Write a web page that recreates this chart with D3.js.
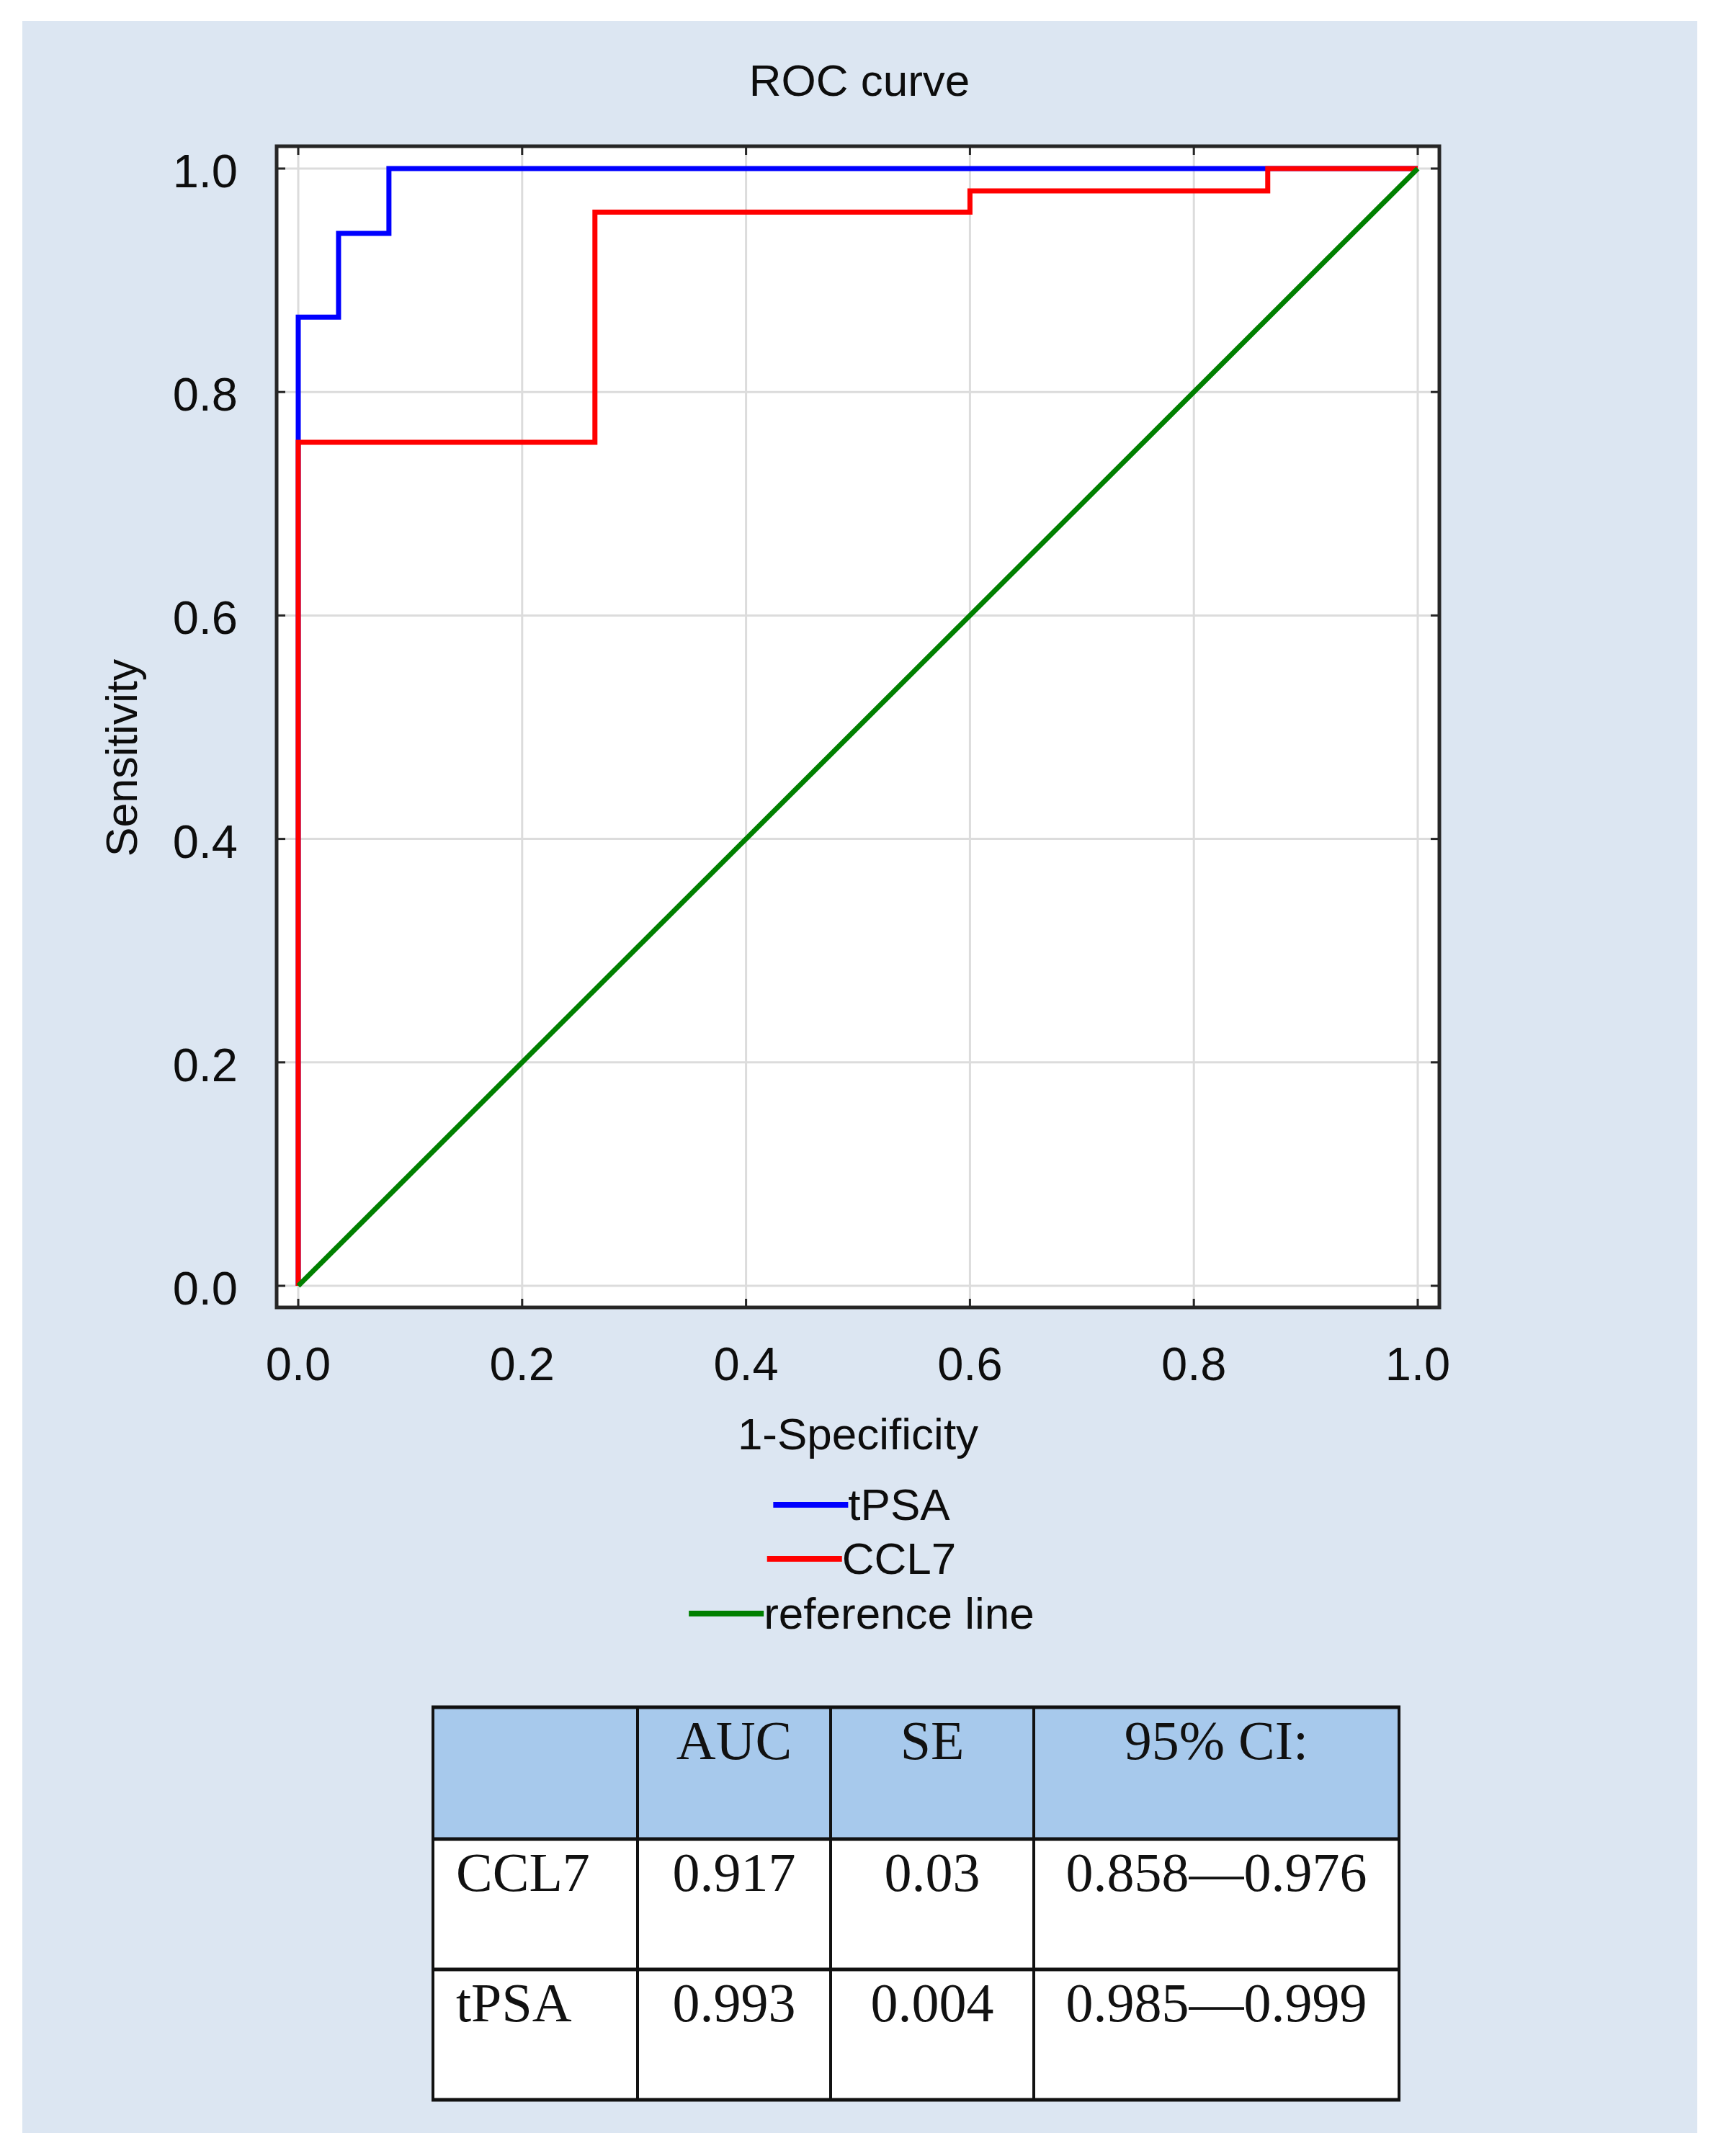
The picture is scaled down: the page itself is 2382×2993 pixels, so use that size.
<!DOCTYPE html>
<html>
<head>
<meta charset="utf-8">
<script src="https://cdn.jsdelivr.net/npm/d3@7"></script>
<style>
  body { margin: 0; background: #ffffff; }
  svg { display: block; }
</style>
</head>
<body>
<script>
var W = 2382;
var H = 2993;

// ROC curve points (1-specificity, sensitivity)
var tpsaFpr = [0, 0, 0.036, 0.081, 1];
var tpsaTpr = [0, 0.867, 0.942, 1.0, 1.0];
var ccl7Fpr = [0, 0, 0.265, 0.6, 0.866, 1];
var ccl7Tpr = [0, 0.755, 0.961, 0.98, 1.0, 1.0];
var refFpr = [0, 1];
var refTpr = [0, 1];

var tickValues = [0, 0.2, 0.4, 0.6, 0.8, 1.0];
var tickLabels = ["0.0", "0.2", "0.4", "0.6", "0.8", "1.0"];

var legendNames = ["tPSA", "CCL7", "reference line"];
var legendColors = ["#0000ff", "#ff0000", "#008000"];

// table
var tableHeaders = ["", "AUC", "SE", "95% CI:"];
var rowNames = ["CCL7", "tPSA"];
var aucValues = ["0.917", "0.993"];
var seValues = ["0.03", "0.004"];
var ciValues = ["0.858\u20140.976", "0.985\u20140.999"];

var svg = d3.select("body").append("svg").attr("width", W).attr("height", H);
svg.append("rect").attr("width", W).attr("height", H).attr("fill", "#ffffff");
svg.append("rect")
  .attr("x", 31).attr("y", 29)
  .attr("width", 2325).attr("height", 2932)
  .attr("fill", "#dce6f2");

var sans = "'Liberation Sans', Arial, sans-serif";
var serif = "'Liberation Serif', 'Times New Roman', serif";
var ink = "#0d0d0d";

// plot frame
var frame = { left: 384, right: 1998, top: 203, bottom: 1815 };
var x = d3.scaleLinear().domain([0, 1]).range([414, 1968]);
var y = d3.scaleLinear().domain([0, 1]).range([1785, 234]);

svg.append("rect")
  .attr("x", frame.left).attr("y", frame.top)
  .attr("width", frame.right - frame.left).attr("height", frame.bottom - frame.top)
  .attr("fill", "#ffffff");

// grid
svg.append("g")
  .selectAll("line")
  .data(tickValues)
  .enter()
  .append("line")
  .attr("x1", function (d) { return x(d); })
  .attr("x2", function (d) { return x(d); })
  .attr("y1", frame.top).attr("y2", frame.bottom)
  .attr("stroke", "#dcdcdc").attr("stroke-width", 3);

svg.append("g")
  .selectAll("line")
  .data(tickValues)
  .enter()
  .append("line")
  .attr("y1", function (d) { return y(d); })
  .attr("y2", function (d) { return y(d); })
  .attr("x1", frame.left).attr("x2", frame.right)
  .attr("stroke", "#dcdcdc").attr("stroke-width", 3);

// curves
var line = d3.line()
  .x(function (d) { return x(d[0]); })
  .y(function (d) { return y(d[1]); });

var series = [
  { fpr: tpsaFpr, tpr: tpsaTpr, color: "#0000ff", curve: d3.curveStepAfter },
  { fpr: ccl7Fpr, tpr: ccl7Tpr, color: "#ff0000", curve: d3.curveStepAfter },
  { fpr: refFpr, tpr: refTpr, color: "#008000", curve: d3.curveLinear }
];

series.forEach(function (s) {
  var pts = s.fpr.map(function (f, i) { return [f, s.tpr[i]]; });
  svg.append("path")
    .datum(pts)
    .attr("d", line.curve(s.curve))
    .attr("fill", "none")
    .attr("stroke", s.color)
    .attr("stroke-width", 7)
    .attr("stroke-linejoin", "miter");
});

// frame border + inward ticks on all four sides
svg.append("rect")
  .attr("x", frame.left).attr("y", frame.top)
  .attr("width", frame.right - frame.left).attr("height", frame.bottom - frame.top)
  .attr("fill", "none").attr("stroke", "#262626").attr("stroke-width", 5);

var tl = 12;
var ticks = svg.append("g").attr("stroke", "#262626").attr("stroke-width", 3);
tickValues.forEach(function (d) {
  ticks.append("line").attr("x1", x(d)).attr("x2", x(d)).attr("y1", frame.bottom).attr("y2", frame.bottom - tl);
  ticks.append("line").attr("x1", x(d)).attr("x2", x(d)).attr("y1", frame.top).attr("y2", frame.top + tl);
  ticks.append("line").attr("y1", y(d)).attr("y2", y(d)).attr("x1", frame.left).attr("x2", frame.left + tl);
  ticks.append("line").attr("y1", y(d)).attr("y2", y(d)).attr("x1", frame.right).attr("x2", frame.right - tl);
});

// tick labels
svg.append("g")
  .selectAll("text")
  .data(tickValues)
  .enter()
  .append("text")
  .text(function (d, i) { return tickLabels[i]; })
  .attr("x", function (d) { return x(d); })
  .attr("y", 1916)
  .attr("text-anchor", "middle")
  .attr("font-family", sans).attr("font-size", 65).attr("fill", ink);

svg.append("g")
  .selectAll("text")
  .data(tickValues)
  .enter()
  .append("text")
  .text(function (d, i) { return tickLabels[i]; })
  .attr("x", 330)
  .attr("y", function (d) { return y(d) + 26; })
  .attr("text-anchor", "end")
  .attr("font-family", sans).attr("font-size", 65).attr("fill", ink);

// titles
svg.append("text")
  .text("ROC curve")
  .attr("x", 1193).attr("y", 133)
  .attr("text-anchor", "middle")
  .attr("font-family", sans).attr("font-size", 62).attr("fill", ink);

svg.append("text")
  .text("1-Specificity")
  .attr("x", 1191).attr("y", 2012)
  .attr("text-anchor", "middle")
  .attr("font-family", sans).attr("font-size", 62).attr("fill", ink);

svg.append("text")
  .text("Sensitivity")
  .attr("transform", "translate(190,1052) rotate(-90)")
  .attr("text-anchor", "middle")
  .attr("font-family", sans).attr("font-size", 61).attr("fill", ink);

// legend, each row centred
var legendY = [2089, 2164, 2240];
var legendCx = 1196;
var legendLineLen = 104;
legendNames.forEach(function (name, i) {
  var g = svg.append("g");
  var t = g.append("text")
    .text(name)
    .attr("y", legendY[i] + 21)
    .attr("font-family", sans).attr("font-size", 62).attr("fill", ink);
  var tw = t.node().getComputedTextLength();
  var x0 = legendCx - (legendLineLen + tw) / 2;
  t.attr("x", x0 + legendLineLen);
  g.append("line")
    .attr("x1", x0).attr("x2", x0 + legendLineLen)
    .attr("y1", legendY[i]).attr("y2", legendY[i])
    .attr("stroke", legendColors[i]).attr("stroke-width", 8);
});

// table
var colX = [601, 885, 1153, 1435, 1942];
var rowY = [2370, 2553, 2734, 2915];
var tbl = svg.append("g");

tbl.append("rect")
  .attr("x", colX[0]).attr("y", rowY[0])
  .attr("width", colX[4] - colX[0]).attr("height", rowY[1] - rowY[0])
  .attr("fill", "#a7c9ec");
tbl.append("rect")
  .attr("x", colX[0]).attr("y", rowY[1])
  .attr("width", colX[4] - colX[0]).attr("height", rowY[3] - rowY[1])
  .attr("fill", "#ffffff");

var rows = [tableHeaders].concat(rowNames.map(function (n, i) {
  return [n, aucValues[i], seValues[i], ciValues[i]];
}));

rows.forEach(function (r, ri) {
  r.forEach(function (cell, ci) {
    var first = ci === 0;
    tbl.append("text")
      .text(cell)
      .attr("x", first ? colX[0] + 32 : (colX[ci] + colX[ci + 1]) / 2)
      .attr("y", rowY[ri] + 72)
      .attr("text-anchor", first ? "start" : "middle")
      .attr("font-family", serif).attr("font-size", 76).attr("fill", "#111111");
  });
});

rowY.forEach(function (yy) {
  tbl.append("line")
    .attr("x1", colX[0] - 2).attr("x2", colX[4] + 2)
    .attr("y1", yy).attr("y2", yy)
    .attr("stroke", "#111111").attr("stroke-width", 5);
});
colX.forEach(function (xx) {
  tbl.append("line")
    .attr("x1", xx).attr("x2", xx)
    .attr("y1", rowY[0]).attr("y2", rowY[3])
    .attr("stroke", "#111111").attr("stroke-width", 4);
});
</script>
</body>
</html>
